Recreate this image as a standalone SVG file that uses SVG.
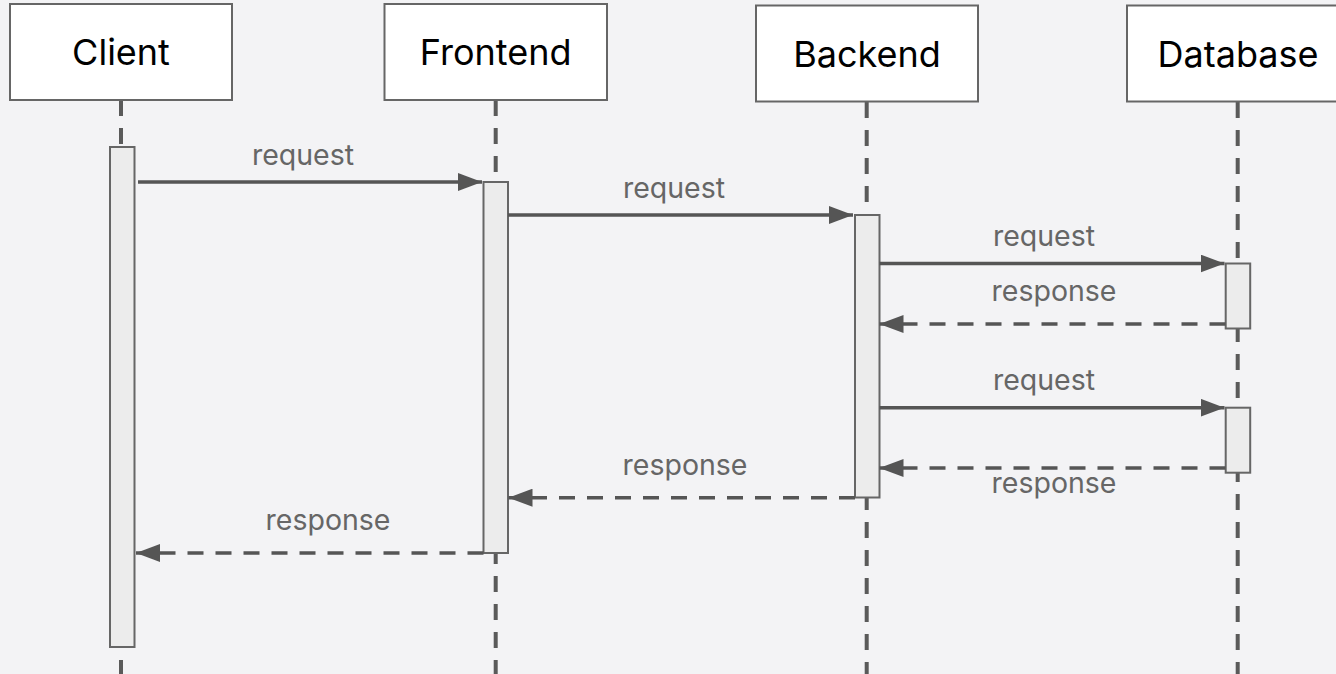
<svg xmlns="http://www.w3.org/2000/svg" width="1336" height="674" viewBox="0 0 1336 674">
  <defs>
    <style>
      .bg { fill: #f3f3f5; }
      .actor .head { fill: #ffffff; stroke: #666666; stroke-width: 2; }
      .actor text { font-family: Inter, "Noto Sans", "Liberation Sans", sans-serif; font-size: 36px; fill: #000000; text-anchor: middle; }
      .lifeline { stroke: #5a5a5a; stroke-width: 4; stroke-dasharray: 16 12; fill: none; }
      .actor .act { fill: #ececec; stroke: #666666; stroke-width: 2; }
      .msg { stroke: #555555; stroke-width: 3.5; fill: none; }
      .dashed { stroke-dasharray: 16 12; }
      .label { font-family: Inter, "Noto Sans", "Liberation Sans", sans-serif; font-size: 28.5px; fill: #666666; text-anchor: middle; }
    </style>
    <marker id="arrow" markerUnits="userSpaceOnUse" markerWidth="24" markerHeight="18" refX="24" refY="9" orient="auto">
      <path d="M0,0 L24,9 L0,18 z" fill="#555555"/>
    </marker>
  </defs>

  <rect class="bg" x="0" y="0" width="1336" height="674"/>

  <!-- lifelines -->
  <g id="lifelines">
    <line class="lifeline" x1="121" y1="100" x2="121" y2="674"/>
    <line class="lifeline" x1="495.7" y1="100" x2="495.7" y2="674"/>
    <line class="lifeline" x1="866.7" y1="102" x2="866.7" y2="674"/>
    <line class="lifeline" x1="1237.7" y1="102" x2="1237.7" y2="674"/>
  </g>

  <!-- participants with their activation bars -->
  <g id="client" class="actor">
    <rect class="head" x="10" y="4" width="222" height="96"/>
    <text x="121" y="65">Client</text>
    <rect class="act" x="110" y="147" width="24.5" height="500"/>
  </g>
  <g id="frontend" class="actor">
    <rect class="head" x="384.5" y="4" width="222.5" height="96"/>
    <text x="495.7" y="65">Frontend</text>
    <rect class="act" x="483.5" y="182" width="24.5" height="371"/>
  </g>
  <g id="backend" class="actor">
    <rect class="head" x="756" y="5.5" width="222" height="96"/>
    <text x="867" y="67">Backend</text>
    <rect class="act" x="855" y="215" width="24.5" height="282.5"/>
  </g>
  <g id="database" class="actor">
    <rect class="head" x="1127" y="5.5" width="222" height="96"/>
    <text x="1238" y="67">Database</text>
    <rect class="act" x="1225.7" y="263.5" width="24.5" height="65"/>
    <rect class="act" x="1225.7" y="407.7" width="24.5" height="65"/>
  </g>

  <!-- messages -->
  <g id="connectors">
    <line class="msg" x1="138" y1="182" x2="482" y2="182" marker-end="url(#arrow)"/>
    <line class="msg" x1="508" y1="215" x2="853" y2="215" marker-end="url(#arrow)"/>
    <line class="msg" x1="879.5" y1="263.5" x2="1224.5" y2="263.5" marker-end="url(#arrow)"/>
    <line class="msg dashed" x1="1225.5" y1="324" x2="879.5" y2="324" marker-end="url(#arrow)"/>
    <line class="msg" x1="879.5" y1="407.7" x2="1224.5" y2="407.7" marker-end="url(#arrow)"/>
    <line class="msg dashed" x1="1225.5" y1="468" x2="879.5" y2="468" marker-end="url(#arrow)"/>
    <line class="msg dashed" x1="855" y1="497.7" x2="508.5" y2="497.7" marker-end="url(#arrow)"/>
    <line class="msg dashed" x1="483.5" y1="553" x2="136" y2="553" marker-end="url(#arrow)"/>
  </g>

  <!-- message labels -->
  <g id="labels">
    <text class="label" x="303" y="164.5">request</text>
    <text class="label" x="674" y="197.5">request</text>
    <text class="label" x="1044" y="246">request</text>
    <text class="label" x="1054" y="301">response</text>
    <text class="label" x="1044" y="390">request</text>
    <text class="label" x="1054" y="493">response</text>
    <text class="label" x="685" y="474.5">response</text>
    <text class="label" x="328" y="529.5">response</text>
  </g>
</svg>
